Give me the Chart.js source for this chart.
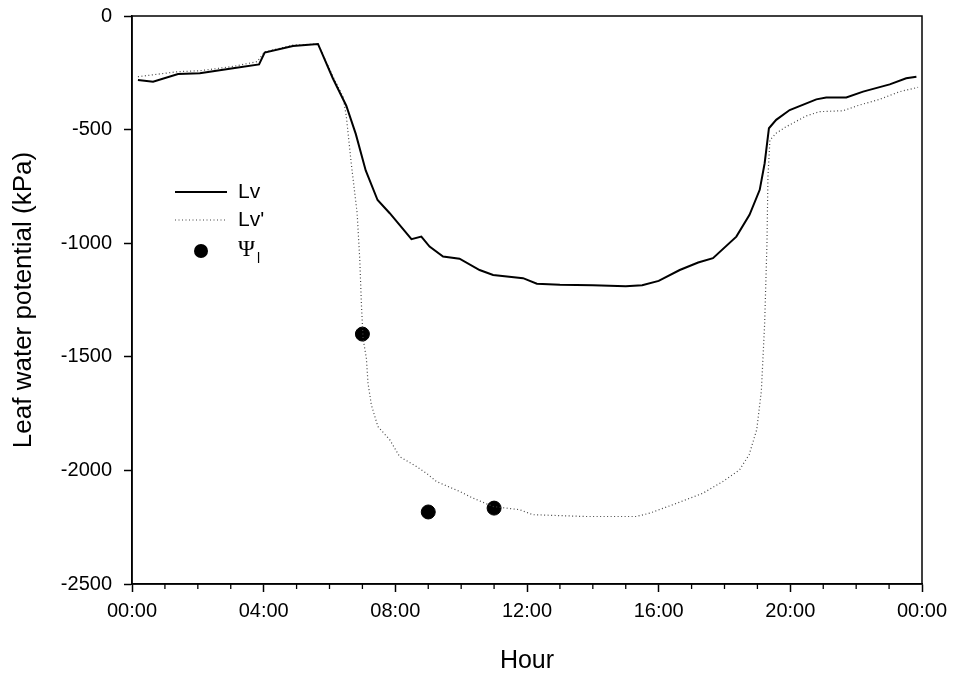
<!DOCTYPE html>
<html>
<head>
<meta charset="utf-8">
<script src="https://cdn.jsdelivr.net/npm/chart.js@4/dist/chart.umd.min.js"></script>
<style>
  body { margin: 0; background: #fff; }
  canvas { display: block; }
</style>
</head>
<body>
<canvas id="chart" width="961" height="677"></canvas>
<script>
// hours since midnight, leaf water potential in kPa
const lvHours = [0.18, 0.64, 1.40, 2.06, 3.07, 3.86, 4.03, 4.89, 5.65, 6.10, 6.51, 6.80, 7.10, 7.46, 7.83,
    8.49, 8.79, 9.04, 9.45, 9.95, 10.56, 10.97, 11.88, 12.3, 13.0, 14.0, 15.0, 15.5, 16.0, 16.64,
    17.2, 17.65, 18.36, 18.76, 19.07, 19.22, 19.35, 19.57, 19.98, 20.79, 21.09, 21.70, 22.21,
    23.02, 23.52, 23.83];
const lvValues = [-282, -289, -255, -252, -230, -213, -161, -132, -123, -274, -395, -520, -680, -810, -868,
    -982, -971, -1015, -1059, -1068, -1118, -1140, -1154, -1178, -1183, -1185, -1190, -1185, -1166, -1118,
    -1085, -1066, -971, -875, -765, -648, -494, -457, -414, -367, -359, -359, -333,
    -301, -274, -267];

const lvPrimeHours = [0.18, 1.40, 2.06, 3.07, 3.80, 4.03, 4.89, 5.65, 6.10, 6.41, 6.51, 6.66, 6.84,
    6.92, 6.97, 7.02, 7.12, 7.17, 7.27, 7.47, 7.83, 8.13, 8.64, 8.94, 9.25, 9.96, 10.36, 10.97,
    11.78, 12.18, 13.80, 15.32, 15.73, 16.43, 17.35, 17.95, 18.46, 18.75, 18.98, 19.12, 19.22,
    19.29, 19.32, 19.38, 19.57, 19.83, 20.48, 20.89, 21.60, 22.10, 22.71, 23.32, 23.88];
const lvPrimeValues = [-267, -245, -241, -222, -201, -158, -128, -123, -265, -355, -440, -648, -868,
    -1073, -1271, -1420, -1506, -1616, -1711, -1807, -1865, -1939, -1983, -2012, -2049, -2093, -2122, -2159,
    -2173, -2195, -2203, -2203, -2188, -2151, -2100, -2049, -1997, -1930, -1820, -1650, -1352,
    -1000, -707, -546, -516, -491, -440, -421, -417, -392, -367, -333, -314];

const psiHours = [7.0, 9.0, 11.0];
const psiValues = [-1400, -2183, -2166];

const toPoints = (xs, ys) => xs.map((x, i) => ({ x, y: ys[i] }));

const FONT = "'Liberation Sans', Arial, sans-serif";

// box round the plot, minor hour ticks and the legend
const frame = {
    id: "frame",
    afterDraw(chart) {
        const { ctx, chartArea: a, scales } = chart;
        ctx.save();
        ctx.strokeStyle = "#000";
        ctx.lineWidth = 1.5;
        ctx.strokeRect(a.left, a.top, a.right - a.left, a.bottom - a.top);

        ctx.lineWidth = 1.3;
        for (let h = 0; h <= 24; h++) {
            if (h % 4 === 0) continue;
            const px = scales.x.getPixelForValue(h);
            ctx.beginPath();
            ctx.moveTo(px, a.bottom);
            ctx.lineTo(px, a.bottom + 5);
            ctx.stroke();
        }

        // legend
        const lx = 175, tx = 238;
        ctx.font = "21px " + FONT;
        ctx.fillStyle = "#000";
        ctx.textBaseline = "middle";
        ctx.lineWidth = 2;
        ctx.beginPath();
        ctx.moveTo(lx, 192); ctx.lineTo(lx + 52, 192);
        ctx.stroke();
        ctx.fillText("Lv", tx, 192);

        ctx.lineWidth = 1.2;
        ctx.strokeStyle = "#444";
        ctx.setLineDash([1, 2.5]);
        ctx.beginPath();
        ctx.moveTo(lx, 220); ctx.lineTo(lx + 52, 220);
        ctx.stroke();
        ctx.setLineDash([]);
        ctx.fillText("Lv'", tx, 220);

        ctx.beginPath();
        ctx.arc(201, 251, 7, 0, Math.PI * 2);
        ctx.fill();
        ctx.font = "23px 'Liberation Serif', serif";
        ctx.fillText("\u03A8", tx, 250);
        ctx.font = "14px " + FONT;
        ctx.fillText("l", tx + 19, 259);
        ctx.restore();
    }
};

new Chart(document.getElementById("chart"), {
    type: "line",
    data: {
        datasets: [
            {
                label: "Lv",
                data: toPoints(lvHours, lvValues),
                borderColor: "#000",
                borderWidth: 2,
                pointRadius: 0,
                tension: 0,
            },
            {
                label: "Lv'",
                data: toPoints(lvPrimeHours, lvPrimeValues),
                borderColor: "#444",
                borderWidth: 1.2,
                borderDash: [1, 2.5],
                pointRadius: 0,
                tension: 0,
            },
            {
                label: "\u03A8l",
                data: toPoints(psiHours, psiValues),
                showLine: false,
                pointRadius: 7,
                pointBackgroundColor: "#000",
                pointBorderColor: "#000",
            },
        ],
    },
    options: {
        responsive: false,
        animation: false,
        layout: { padding: { top: 16, right: 39, left: 0, bottom: 0 } },
        plugins: { legend: { display: false }, tooltip: { enabled: false } },
        scales: {
            x: {
                type: "linear",
                min: 0,
                max: 24,
                afterFit: s => { s.height = 93; s.paddingLeft = 0; s.paddingRight = 0; },
                grid: { drawOnChartArea: false, tickLength: 8, tickColor: "#000", tickWidth: 1.5 },
                border: { color: "#000", width: 1.5 },
                ticks: {
                    stepSize: 4,
                    autoSkip: false,
                    maxRotation: 0,
                    padding: 7,
                    color: "#000",
                    font: { family: FONT, size: 20 },
                    callback: v => String(v % 24).padStart(2, "0") + ":00",
                },
                title: {
                    display: true,
                    text: "Hour",
                    color: "#000",
                    font: { family: FONT, size: 25 },
                    padding: { top: 0, bottom: 1 },
                },
            },
            y: {
                min: -2500,
                max: 0,
                afterFit: s => { s.width = 132; s.paddingTop = 0; s.paddingBottom = 0; },
                grid: { drawOnChartArea: false, tickLength: 8, tickColor: "#000", tickWidth: 1.5 },
                border: { color: "#000", width: 1.5 },
                ticks: {
                    stepSize: 500,
                    autoSkip: false,
                    padding: 12,
                    color: "#000",
                    font: { family: FONT, size: 20 },
                    callback: v => String(v),
                },
                title: {
                    display: true,
                    text: "Leaf water potential (kPa)",
                    color: "#000",
                    font: { family: FONT, size: 26 },
                    padding: { top: 8, bottom: 0 },
                },
            },
        },
    },
    plugins: [frame],
});
</script>
</body>
</html>
